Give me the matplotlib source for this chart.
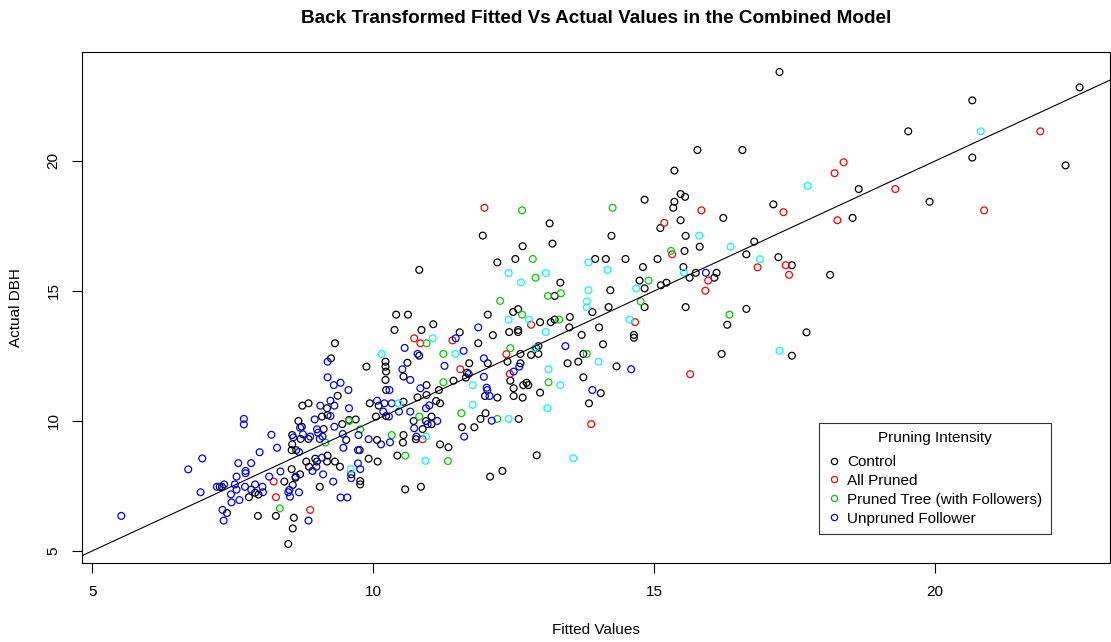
import matplotlib
matplotlib.use("Agg")
import matplotlib.pyplot as plt
from matplotlib.lines import Line2D

plt.rcParams['font.family'] = ['Liberation Sans', 'DejaVu Sans']

# Control
ctrl_x = [7.27, 7.31, 7.40, 7.79, 7.90, 7.96, 7.95, 8.27,
          9.88, 10.22, 10.22, 10.23, 10.54, 10.61, 10.22, 10.23, 9.37, 9.94, 10.10, 10.54,
          8.74, 8.85, 9.18, 9.19, 9.09, 8.67, 8.73, 9.45, 9.57, 9.69, 10.05, 10.23,
          8.56, 8.71, 8.85, 9.12, 9.52, 10.07, 10.54, 10.53, 10.43, 8.56, 8.55, 8.63, 9.76,
          8.55, 8.70, 8.62, 8.81, 8.97, 9.19, 9.00, 9.18, 9.32, 8.86, 9.41, 9.92, 10.08,
          9.61, 9.77, 9.77, 9.05, 8.42, 8.57, 10.57, 8.59, 8.57, 8.49,
          11.95, 12.21, 10.82, 10.41, 10.62, 10.38, 10.86, 11.07, 12.04, 11.54, 12.13,
          9.32, 10.82, 9.25, 11.87, 11.71, 12.04,
          12.94, 12.90, 12.81, 12.94, 12.39, 12.62, 12.62, 13.74, 13.65, 13.46, 13.74,
          12.44, 12.50, 12.67, 12.73, 12.76, 12.97, 12.50, 12.66, 13.84, 12.59, 12.91,
          12.30, 12.08, 11.67, 11.65, 11.99, 12.21, 11.43, 11.17, 10.95, 10.95, 10.79,
          11.12, 11.19, 12.00, 11.91, 11.04, 11.04, 10.94, 10.72, 10.88, 11.58, 11.80,
          10.76, 11.19, 11.34, 10.85,
          15.36, 15.47, 15.55, 14.83, 15.36, 15.34, 13.14, 15.11, 15.47, 14.24, 15.56,
          12.66, 13.19, 12.53, 13.95, 14.14, 14.49, 15.06, 15.54, 14.80, 15.52, 15.63,
          14.74, 13.33, 15.12, 15.22, 14.83, 14.22, 13.23, 14.83, 15.56, 14.19, 13.90,
          12.49, 12.58, 12.97, 13.16, 13.23, 13.50, 13.49, 14.02, 12.42, 12.58, 12.58,
          13.71, 14.64, 14.64, 14.09,
          15.81, 16.78, 16.64, 17.21, 17.45, 18.13, 16.11, 16.07, 15.74, 16.64, 16.30,
          17.71, 17.45, 16.20, 14.33, 14.05,
          17.23, 15.77, 16.57, 18.64, 17.12, 16.23, 18.53,
          22.57, 20.66, 19.52, 20.66, 22.32, 19.90]
ctrl_y = [7.47, 7.47, 6.46, 7.07, 7.24, 7.17, 6.35, 6.35,
          12.09, 12.28, 12.09, 11.90, 11.71, 12.24, 11.58, 11.19, 10.97, 10.68, 10.59, 10.74,
          10.59, 10.68, 10.49, 10.23, 10.17, 10.00, 9.78, 9.88, 10.04, 10.06, 10.17, 10.19,
          9.46, 9.31, 9.31, 9.69, 9.27, 9.27, 9.46, 9.17, 8.67, 9.10, 8.88, 8.88, 8.88,
          8.15, 7.95, 7.82, 8.44, 8.55, 8.67, 8.44, 8.44, 8.44, 8.24, 8.24, 8.55, 8.44,
          7.95, 7.69, 7.56, 7.47, 7.67, 7.54, 7.37, 6.28, 5.87, 5.27,
          17.13, 16.10, 15.81, 14.09, 14.09, 13.50, 13.50, 13.72, 14.09, 13.41, 13.30,
          12.99, 12.51, 12.41, 12.99, 12.22, 12.22,
          12.88, 12.80, 12.54, 12.58, 12.28, 12.58, 12.22, 12.58, 12.28, 12.22, 11.68,
          11.55, 11.26, 11.38, 11.47, 11.38, 11.09, 10.96, 10.90, 10.68, 10.08, 8.68,
          8.08, 7.86, 11.86, 11.67, 10.96, 10.90, 11.55, 11.19, 11.38, 11.00, 10.91,
          10.77, 10.68, 10.30, 10.08, 10.17, 9.88, 10.00, 10.00, 9.69, 9.76, 9.76,
          9.30, 9.10, 8.99, 7.47,
          19.63, 18.73, 18.62, 18.51, 18.43, 18.20, 17.60, 17.42, 17.72, 17.12, 17.12,
          16.72, 16.82, 16.23, 16.23, 16.23, 16.23, 16.23, 16.54, 15.92, 15.92, 15.51,
          15.40, 15.32, 15.22, 15.32, 15.10, 15.03, 14.81, 14.38, 14.38, 14.38, 14.19,
          14.19, 14.30, 13.80, 13.80, 13.90, 14.00, 13.60, 13.60, 13.42, 13.50, 13.42,
          13.31, 13.31, 13.20, 12.95,
          16.70, 16.90, 16.41, 16.30, 15.99, 15.62, 15.70, 15.51, 15.70, 14.31, 13.70,
          13.41, 12.51, 12.58, 12.10, 11.07,
          23.42, 20.42, 20.42, 18.92, 18.33, 17.81, 17.81,
          22.83, 22.33, 21.14, 20.13, 19.83, 18.43]

# All Pruned
allp_x = [8.23, 8.27, 8.88, 10.73, 10.84, 11.41, 11.98, 12.37, 12.43, 13.88, 11.55, 10.88,
          15.18, 15.32, 12.81, 14.66, 17.34, 16.84, 17.40, 15.96, 15.91, 15.64,
          18.37, 18.21, 17.30, 15.84, 18.26, 21.87, 19.29, 20.87]
allp_y = [7.67, 7.07, 6.58, 13.18, 12.99, 13.10, 18.20, 12.57, 11.81, 9.88, 11.99, 9.30,
          17.62, 16.41, 13.70, 13.80, 15.99, 15.91, 15.62, 15.40, 15.01, 11.80,
          19.95, 19.53, 18.03, 18.10, 17.72, 21.14, 18.92, 18.10]

# Pruned Tree (with Followers)
ptree_x = [8.34, 9.57, 9.15, 9.77, 10.33, 10.57, 10.95, 11.25, 12.26,
           12.44, 13.80, 13.12, 11.25, 11.57, 12.21, 10.82, 11.33,
           12.65, 14.26, 12.84, 15.30, 12.89, 14.90, 13.34, 13.11, 14.76, 12.65, 13.31, 16.34]
ptree_y = [6.64, 10.00, 9.17, 9.68, 9.46, 8.67, 12.99, 12.58, 14.62,
           12.80, 12.58, 11.49, 11.49, 10.30, 10.08, 10.17, 8.46,
           18.10, 18.20, 16.23, 16.54, 15.51, 15.40, 14.91, 14.81, 14.60, 14.09, 13.90, 14.09]

# Unpruned Follower
unpr_x = [5.52, 6.71, 6.96, 6.93, 7.70, 7.70, 8.19, 8.29, 7.98, 7.60, 7.83, 7.73, 7.73,
          7.57, 8.15, 7.35, 7.22, 7.54, 7.57, 7.72, 7.90, 8.03, 7.83, 8.04, 7.47, 7.48,
          7.62, 7.32, 7.34, 8.35,
          9.19, 10.52, 10.29, 9.19, 9.30, 9.42, 9.56, 10.07, 10.20, 10.33, 9.06, 9.24,
          9.31, 9.57, 8.96, 9.24, 8.70, 10.18, 10.28, 10.46, 10.66, 8.58, 8.75, 8.88,
          9.00, 9.02, 9.31, 9.05, 9.10, 9.46, 9.74, 9.92, 10.14, 10.30, 8.68, 9.47, 9.73,
          8.62, 8.99, 9.09, 8.92, 9.11, 9.73, 9.77, 9.61, 9.29, 8.51, 8.52, 8.68, 8.49,
          9.42, 9.54, 8.85,
          11.87, 11.47, 10.56, 10.79, 11.61, 11.97,
          13.42, 12.60, 12.50, 13.90, 11.27, 11.70, 11.97, 12.02, 12.03, 12.07, 10.84,
          11.00, 10.94, 12.11, 11.14, 10.97, 10.73, 10.77, 11.62, 10.66,
          15.92, 14.59]
unpr_y = [6.35, 8.14, 8.56, 7.26, 10.08, 9.87, 9.47, 8.97, 8.80, 8.38, 8.38, 8.08, 7.99,
          7.86, 7.86, 7.56, 7.47, 7.56, 7.36, 7.47, 7.56, 7.47, 7.36, 7.26, 7.18, 6.87,
          6.96, 6.58, 6.17, 8.06,
          12.28, 11.99, 11.19, 11.68, 11.38, 11.47, 11.19, 10.78, 10.68, 10.68, 10.59, 10.78,
          10.59, 10.49, 10.06, 10.19, 9.74, 10.36, 10.17, 10.36, 10.36, 9.37, 9.49, 9.40,
          9.68, 9.55, 9.78, 9.31, 9.40, 9.50, 9.46, 9.30, 9.10, 9.18, 8.81, 8.97, 8.88,
          7.86, 8.24, 8.59, 8.08, 7.95, 8.37, 8.15, 7.80, 7.67, 7.35, 7.09, 7.26, 7.26,
          7.06, 7.06, 6.17,
          13.60, 13.18, 12.81, 12.58, 12.70, 12.41,
          12.88, 12.09, 11.90, 11.19, 12.12, 11.81, 11.70, 11.28, 11.19, 10.96, 11.26,
          10.60, 10.49, 10.01, 10.00, 9.88, 9.72, 9.40, 9.40, 11.58,
          15.70, 11.99]

# Pruned Follower (not listed in the legend)
pfol_x = [10.45, 9.60, 11.06, 10.15, 11.46,
          12.88, 14.01, 13.12, 13.33, 13.10, 12.41, 13.56, 11.77, 11.77, 10.94, 10.93,
          13.83, 12.41, 12.63, 13.07, 14.17, 15.53, 14.68, 13.83, 13.80, 13.80, 12.41,
          12.77, 14.56, 13.07, 16.36, 16.88, 17.23, 17.73, 15.80, 20.81]
pfol_y = [10.68, 8.15, 13.18, 12.58, 12.58,
          12.80, 12.28, 11.99, 11.38, 10.49, 10.08, 8.57, 11.38, 10.62, 9.40, 8.47,
          16.10, 15.69, 15.33, 15.69, 15.81, 15.70, 15.10, 15.03, 14.60, 14.37, 13.90,
          13.90, 13.90, 13.42, 16.70, 16.22, 12.70, 19.04, 17.13, 21.14]

groups = ["Control", "All Pruned", "Pruned Tree (with Followers)", "Unpruned Follower"]
colors = ["black", "red", "#00CD00", "blue", "cyan"]

fig = plt.figure(figsize=(11.11, 6.42), dpi=100)
ax = fig.add_axes([0.0738, 0.1231, 0.9253, 0.7959])

series = [(ctrl_x, ctrl_y), (allp_x, allp_y), (ptree_x, ptree_y),
          (unpr_x, unpr_y), (pfol_x, pfol_y)]
for (xs, ys), c in zip(series, colors):
    ax.scatter(xs, ys, s=24, facecolors='none', edgecolors=c, linewidths=0.9)

# 1:1 reference line
ax.axline((0, 0), slope=1, color='black', lw=0.8)

ax.set_xlim(4.82, 23.11)
ax.set_ylim(4.54, 24.19)
ax.set_xticks([5, 10, 15, 20])
ax.set_yticks([5, 10, 15, 20])
ax.tick_params(length=7, width=0.8, labelsize=11)
ax.tick_params(axis='x', pad=9)
ax.tick_params(axis='y', pad=8.5)
for lab in ax.get_yticklabels():
    lab.set_rotation(90)
    lab.set_va('center')
for sp in ax.spines.values():
    sp.set_linewidth(0.8)

ax.set_xlabel("Fitted Values", fontsize=11, labelpad=17)
ax.set_ylabel("Actual DBH", fontsize=11, labelpad=17)
ax.set_title("Back Transformed Fitted Vs Actual Values in the Combined Model",
             fontsize=13.6, fontweight='bold', pad=21)

handles = [Line2D([], [], marker='o', ls='none', markerfacecolor='none',
                  markeredgecolor=c, markersize=4.5, markeredgewidth=0.9)
           for c in colors[:4]]
leg = ax.legend(handles, groups, title="Pruning Intensity", loc='lower right',
                bbox_to_anchor=(0.9426, 0.0568), fontsize=11, title_fontsize=11,
                frameon=True, fancybox=False, borderpad=0.55, labelspacing=0.32,
                handlelength=0.93, handletextpad=0.4, borderaxespad=0)
leg.get_frame().set_edgecolor('black')
leg.get_frame().set_linewidth(0.8)
leg._legend_box.sep = 7  # gap between title and entries

fig.savefig("out.png", dpi=100)
